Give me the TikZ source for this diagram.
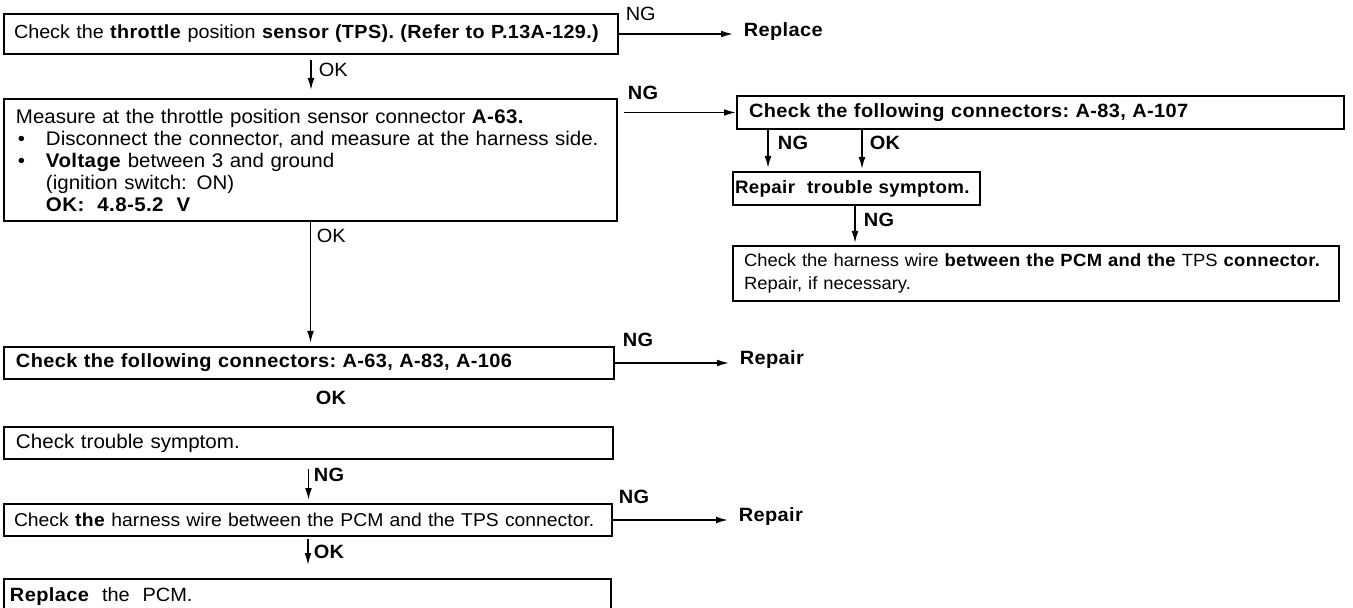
\documentclass[tikz,border=0pt]{standalone}
\usepackage{fontspec}
\setmainfont{Liberation Sans}[WordSpace=1.3,FakeStretch=1.04,BoldFeatures={LetterSpace=2}]
\usetikzlibrary{arrows.meta}
\newcommand{\flowfont}{\fontsize{9.6pt}{11pt}\selectfont}

\begin{document}
\begin{tikzpicture}[x=0.5pt,y=-0.5pt,font=\flowfont,line width=0.8pt,
  box/.style={draw,line width=1pt,anchor=north west,align=left,inner xsep=6pt,inner ysep=0pt},
  lbl/.style={anchor=west,inner sep=0pt},
  blbl/.style={lbl,font=\flowfont\bfseries},
  res/.style={anchor=west,inner xsep=5pt,inner ysep=0pt,font=\flowfont\bfseries},
  arr/.style={-{Latex[length=6pt,width=3.4pt]}}]
  \useasboundingbox (0,0) rectangle (1353,608);
  \node[box,text width=297pt,inner xsep=5pt,minimum height=20pt,font=\fontsize{9.5pt}{11pt}\selectfont] (tps) at (3,13)
    {Check the \textbf{throttle} position \textbf{sensor (TPS). (Refer to P.13A-129.)}};
  \node[lbl] (ngtps) at (625,14) {NG};
  \node[res] (replace) at (733,32) {Replace};
  \draw[arr] (tps.east) -- (tps.east -| replace.west);
  \node[box,text width=294.5pt,minimum height=61pt,font=\fontsize{9.85pt}{11pt}\selectfont] (meas) at (3,98)
    {Measure at the throttle position sensor connector \textbf{A-63.}\\
     \makebox[15pt][l]{\hspace{1pt}\textbullet}Disconnect the connector, and measure at the harness side.\\
     \makebox[15pt][l]{\hspace{1pt}\textbullet}\textbf{Voltage} between 3 and ground\\
     \hspace*{15pt}(ignition switch: ON)\\
     \hspace*{15pt}\textbf{OK:\ \ 4.8-5.2\ \ V}};
  \node[lbl] (oktps) at (318,70) {OK};
  \draw[arr,shorten <=2.5pt,shorten >=4pt] (tps.south) -- (tps.south |- meas.north);
  \node[box,text width=291.5pt,minimum height=16.5pt,font=\flowfont\bfseries] (conntwo) at (736,95)
    {Check\ the following\ connectors:\ A-83, A-107};
  \node[blbl] (ngmeas) at (627,93) {NG};
  \draw[arr,shorten <=3pt] (meas.east |- conntwo.west) -- (conntwo.west);
  \node[box,text width=121.5pt,inner xsep=1pt,minimum height=16.5pt,font=\fontsize{9pt}{11pt}\selectfont\bfseries] (repair) at (732,171)
    {Repair\ \ trouble symptom.};
  \draw[arr,shorten >=1.5pt] ([xshift=16pt]conntwo.south west) coordinate (ctng) -- (ctng |- repair.north);
  \draw[arr,shorten >=1pt] ([xshift=63pt]conntwo.south west) coordinate (ctok) -- (ctok |- repair.north);
  \node[blbl] (ngconntwo) at (777,143) {NG};
  \node[blbl] (okconntwo) at (869,143) {OK};
  \node[box,text width=292pt,inner xsep=5.5pt,minimum height=27.5pt,font=\fontsize{8.85pt}{11.5pt}\selectfont] (harntwo) at (732,245)
    {Check the harness wire \textbf{between the PCM and the} TPS \textbf{connector.}\\
     Repair, if necessary.};
  \draw[arr,shorten >=1pt] ([xshift=61.5pt]repair.south west) coordinate (rpng) -- (rpng |- harntwo.north);
  \node[blbl] (ngrepair) at (863,220) {NG};
  \node[box,text width=293pt,minimum height=16pt,font=\flowfont\bfseries] (connone) at (3,346)
    {Check\ the\ following\ connectors:\ A-63, A-83, A-106};
  \node[lbl] (okmeas) at (316,236) {OK};
  \draw[arr,shorten >=1.5pt] (meas.south) -- (meas.south |- connone.north);
  \node[blbl] (ngconnone) at (622,340) {NG};
  \node[res] (repone) at (729,360) {Repair};
  \draw[arr] (connone.east) -- (connone.east -| repone.west);
  \node[blbl] (okconnone) at (315,398) {OK};
  \node[box,text width=292.5pt,minimum height=16pt,font=\fontsize{9.9pt}{11pt}\selectfont] (trouble) at (3,426)
    {Check trouble symptom.};
  \node[box,text width=294pt,inner xsep=5pt,minimum height=16pt,font=\fontsize{9.3pt}{11pt}\selectfont] (harnone) at (3,503)
    {Check \textbf{the} harness wire between the PCM and the TPS connector.};
  \draw[arr,shorten <=4.5pt,shorten >=1.5pt] (trouble.south) -- (trouble.south |- harnone.north);
  \node[blbl] (ngtrouble) at (313,475) {NG};
  \node[blbl] (ngharnone) at (618,497) {NG};
  \node[res] (rephone) at (728,517) {Repair};
  \draw[arr] (harnone.east) -- (harnone.east -| rephone.west);
  \node[box,text width=297.5pt,inner xsep=3pt,minimum height=18pt] (pcm) at (3,578)
    {\textbf{Replace}\ \ the\ \ PCM.};
  \draw[arr,shorten <=1pt,shorten >=6.5pt] (harnone.south) -- (harnone.south |- pcm.north);
  \node[blbl] (okharnone) at (313,552) {OK};
\end{tikzpicture}
\end{document}
